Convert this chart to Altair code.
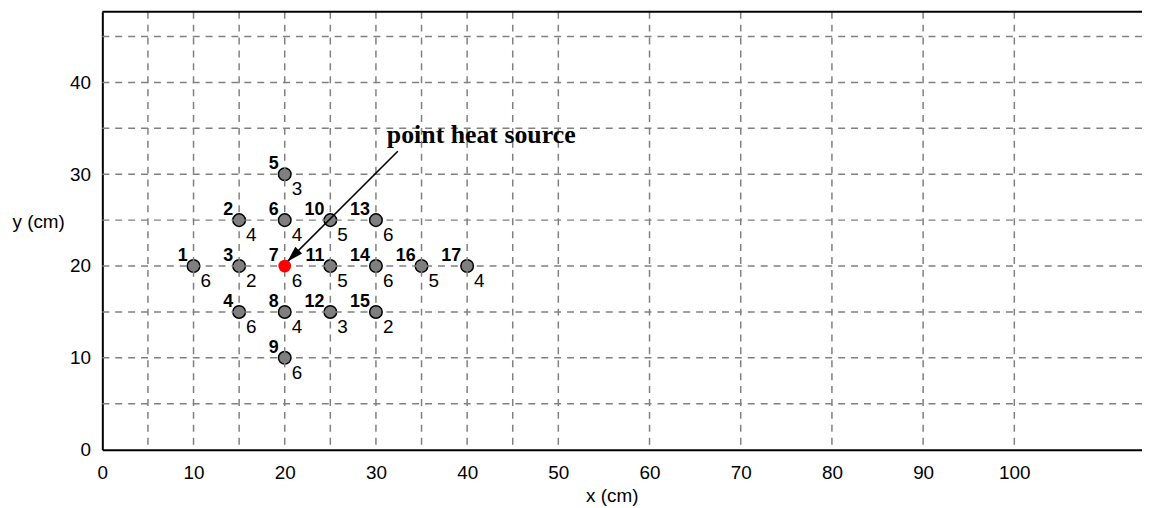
import altair as alt
import pandas as pd

# ---- data ----
point_ids = [1, 2, 3, 4, 5, 6, 7, 8, 9, 10, 11, 12, 13, 14, 15, 16, 17]
point_x = [10, 15, 15, 15, 20, 20, 20, 20, 20, 25, 25, 25, 30, 30, 30, 35, 40]
point_y = [20, 25, 20, 15, 30, 25, 20, 15, 10, 25, 20, 15, 25, 20, 15, 20, 20]
point_vals = [6, 4, 2, 6, 3, 4, 6, 4, 6, 5, 5, 3, 6, 6, 2, 5, 4]
source_id = 7

x_grid = [5, 10, 15, 20, 25, 30, 35, 40, 45, 50, 60, 70, 80, 90, 100]
y_grid = [5, 10, 15, 20, 25, 30, 35, 40, 45]
x_ticks = [0, 10, 20, 30, 40, 50, 60, 70, 80, 90, 100]
y_ticks = [0, 10, 20, 30, 40]
x_max = 114
y_max = 47.7
x_title = "x (cm)"
y_title = "y (cm)"

arrow_start = [32.4, 32.5]
arrow_tip = [20.3, 20.5]
annot_text = ["point heat source"]
annot_pos = [31.2, 34.3]

# ---- tables ----
pts = pd.DataFrame({"id": point_ids, "x": point_x, "y": point_y, "v": point_vals})
pts["src"] = pts["id"] == source_id
gx = pd.DataFrame({"x": x_grid})
gy = pd.DataFrame({"y": y_grid})
arrow = pd.DataFrame({"x": [arrow_start[0]], "y": [arrow_start[1]],
                      "x2": [arrow_tip[0]], "y2": [arrow_tip[1]]})
tip = pd.DataFrame({"x": [arrow_tip[0]], "y": [arrow_tip[1]]})
annot = pd.DataFrame({"t": annot_text, "x": [annot_pos[0]], "y": [annot_pos[1]]})
border = pd.DataFrame({"y": [y_max]})

xs = alt.Scale(domain=[0, x_max], nice=False, zero=False)
ys = alt.Scale(domain=[0, y_max], nice=False, zero=False)

FONT = "Arial, Liberation Sans, sans-serif"
GRID = "#808080"

x_axis = alt.Axis(values=x_ticks, ticks=False, tickSize=0, grid=False, labelPadding=14,
                  labelFontSize=19, labelFont=FONT, labelColor="black",
                  domainColor="black", domainWidth=2,
                  titleFont=FONT, titleFontSize=19, titleFontWeight="normal",
                  titleColor="black", titleX=513, titleY=46, titleBaseline="middle",
                  titleAlign="center", labelFlush=False)
y_axis = alt.Axis(values=y_ticks, ticks=False, tickSize=0, grid=False, labelPadding=12,
                  labelFontSize=19, labelFont=FONT, labelColor="black",
                  domainColor="black", domainWidth=2,
                  titleFont=FONT, titleFontSize=19, titleFontWeight="normal",
                  titleColor="black", titleAngle=0, titleAlign="left", titleBaseline="middle",
                  titleX=-91, titleY=211, labelFlush=False)

X = lambda f: alt.X(f, scale=xs, title=x_title)
Y = lambda f: alt.Y(f, scale=ys, title=y_title)

pts_gray = pts[~pts["src"]]
pts_red = pts[pts["src"]]

vgrid = alt.Chart(gx).mark_rule(color=GRID, strokeWidth=1.5, strokeDash=[7, 6]).encode(
    x=X("x:Q"))
hgrid = alt.Chart(gy).mark_rule(color=GRID, strokeWidth=1.5, strokeDash=[7, 6]).encode(
    y=Y("y:Q"))
top = alt.Chart(border).mark_rule(color="black", strokeWidth=2).encode(y=Y("y:Q"))

arrow_line = alt.Chart(arrow).mark_rule(color="black", strokeWidth=1.6).encode(
    x=X("x:Q"), y=Y("y:Q"), x2="x2:Q", y2="y2:Q")
arrow_head = alt.Chart(tip).mark_point(shape="M0,0 L-0.6,2 L0.6,2 Z", filled=True,
                                       color="black", opacity=1, size=256, angle=225).encode(
    x=X("x:Q"), y=Y("y:Q"))

gray_pts = alt.Chart(pts_gray).mark_circle(
    size=160, color="#7f7f7f", stroke="black", strokeWidth=1.5, opacity=1).encode(
    x=alt.X("x:Q", scale=xs, axis=x_axis, title=x_title),
    y=alt.Y("y:Q", scale=ys, axis=y_axis, title=y_title))
red_pt = alt.Chart(pts_red).mark_circle(size=165, color="#ff0000", opacity=1).encode(
    x=X("x:Q"), y=Y("y:Q"))

id_text = alt.Chart(pts).mark_text(align="right", baseline="alphabetic", dx=-6, dy=-5,
                                   fontSize=18, fontWeight="bold", font=FONT,
                                   color="black").encode(
    x=X("x:Q"), y=Y("y:Q"), text="id:N")
val_text = alt.Chart(pts).mark_text(align="left", baseline="alphabetic", dx=7, dy=21,
                                    fontSize=19, font=FONT, color="black").encode(
    x=X("x:Q"), y=Y("y:Q"), text="v:N")

annot_mark = alt.Chart(annot).mark_text(align="left", baseline="middle", fontSize=26,
                                        fontWeight="bold",
                                        font="Liberation Serif, Times New Roman, serif",
                                        color="black").encode(
    x=X("x:Q"), y=Y("y:Q"), text="t:N")

chart = alt.layer(gray_pts, vgrid, hgrid, top, arrow_line, arrow_head, red_pt,
                  id_text, val_text, annot_mark).properties(
    width=1047, height=441,
    autosize=alt.AutoSizeParams(type="none"),
    padding={"left": 95, "top": 2, "right": 0, "bottom": 55},
    background="white",
).configure_view(stroke=None)

chart.save("out.html", embed_options={"renderer": "svg", "actions": False})
